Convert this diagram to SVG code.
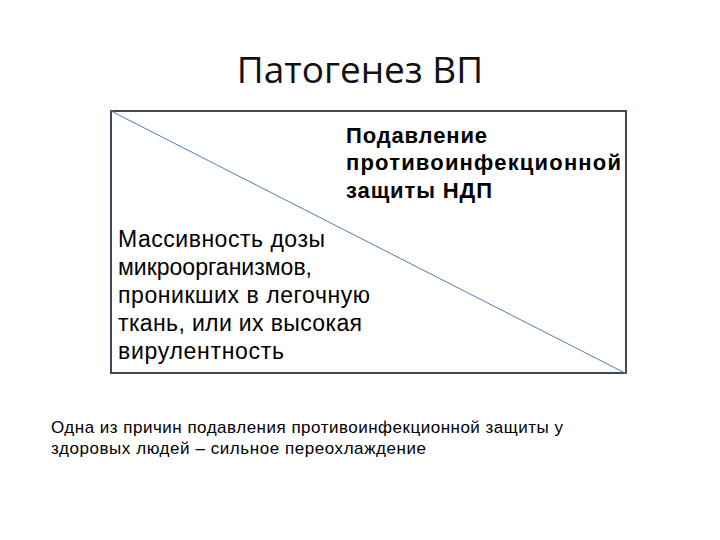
<svg xmlns="http://www.w3.org/2000/svg" width="720" height="540" viewBox="0 0 720 540">
<style>
.title{font-family:"Open Sans","Noto Sans","Liberation Sans",sans-serif;font-size:37px;fill:#111}
.b{font-family:"Liberation Sans",Arial,sans-serif;font-size:22px;font-weight:bold;fill:#000}
.r{font-family:"Liberation Sans",Arial,sans-serif;font-size:23px;fill:#000}
.s{font-family:"Liberation Sans",Arial,sans-serif;font-size:17px;fill:#000}
</style>
<rect width="720" height="540" fill="#fff"/>
<g id="title"><text class="title" x="360" y="83" text-anchor="middle">Патогенез ВП</text></g>
<g id="box">
<rect x="111" y="111" width="515" height="262" fill="#fff" stroke="#3d4b5c" stroke-width="2"/>
</g>
<g id="connectors">
<line x1="111" y1="111" x2="627" y2="374" stroke="#4f7db5" stroke-width="1"/>
</g>
<g id="top-right">
<text class="b" x="346" y="143" textLength="141" lengthAdjust="spacing">Подавление</text>
<text class="b" x="346" y="170" textLength="275" lengthAdjust="spacing">противоинфекционной</text>
<text class="b" x="346" y="198" textLength="146" lengthAdjust="spacing">защиты НДП</text>
</g>
<g id="bottom-left">
<text class="r" x="118" y="247" textLength="207" lengthAdjust="spacing">Массивность дозы</text>
<text class="r" x="118" y="275" textLength="194" lengthAdjust="spacing">микроорганизмов,</text>
<text class="r" x="118" y="303" textLength="252" lengthAdjust="spacing">проникших в легочную</text>
<text class="r" x="118" y="331" textLength="244" lengthAdjust="spacing">ткань, или их высокая</text>
<text class="r" x="118" y="359" textLength="166" lengthAdjust="spacing">вирулентность</text>
</g>
<g id="note">
<text class="s" x="51" y="433" textLength="512" lengthAdjust="spacing">Одна из причин подавления противоинфекционной защиты у</text>
<text class="s" x="51" y="454" textLength="375" lengthAdjust="spacing">здоровых людей – сильное переохлаждение</text>
</g>
</svg>
